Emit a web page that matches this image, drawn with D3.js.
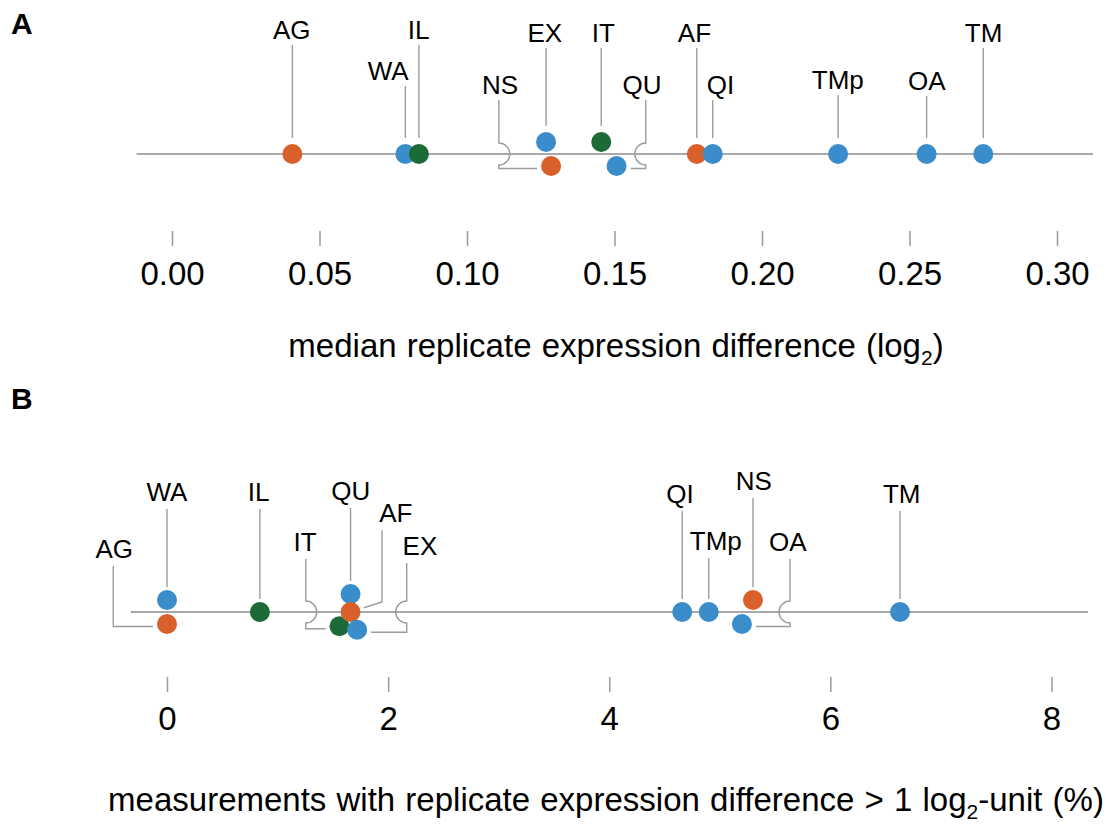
<!DOCTYPE html>
<html><head><meta charset="utf-8">
<script src="https://cdn.jsdelivr.net/npm/d3@7"></script>
<style>
body{margin:0;background:#fff}
svg{font-family:"Liberation Sans",Arial,Helvetica,sans-serif}
</style>
</head><body>
<svg id="chart" width="1107" height="824"></svg>
<script>
// ---------------- data ----------------
const categories = ["AG","WA","IL","NS","EX","IT","QU","AF","QI","TMp","OA","TM"];
const groups     = ["g1","g2","g3","g1","g2","g3","g2","g1","g2","g2","g2","g2"];
// panel A: median replicate expression difference (log2)
const valuesA = [0.0408,0.0791,0.0837,0.1285,0.1268,0.1455,0.1507,0.1779,0.1833,0.2258,0.2558,0.2750];
// panel B: measurements with replicate expression difference > 1 log2-unit (%)
const valuesB = [0.00,0.00,0.84,5.30,1.72,1.56,1.66,1.66,4.66,4.90,5.20,6.63];
const ticksA = [0,0.05,0.10,0.15,0.20,0.25,0.30];
const tickLabelsA = ["0.00","0.05","0.10","0.15","0.20","0.25","0.30"];
const ticksB = [0,2,4,6,8];
const tickLabelsB = ["0","2","4","6","8"];

// ---------------- label layout (annotation placement) ----------------
// side: which side of the axis a dot is dodged to (-1 above, 0 on, 1 below)
const sideA   = [0,0,0,1,-1,-1,1,0,0,0,0,0];
const labelXA = [0.0406,0.0733,0.0836,0.1112,0.1264,0.1462,0.1593,0.1771,0.1859,0.2257,0.2559,0.2751];
const leadXA  = [null,null,null,0.1108,null,null,0.1606,null,null,null,null,null];
const liftA   = [115,74,115,60,112,112,60,112,60,65,64,112];

const sideB   = [1,-1,0,-1,1,1,-1,0,0,0,1,0];
const labelXB = [-0.477,0.0,0.829,5.307,2.288,1.248,1.662,2.07,4.64,4.964,5.614,6.645];
const leadXB  = [-0.486,null,null,null,2.168,1.255,null,1.945,null,null,5.635,null];
const liftB   = [54,111,111,122,57,61,112,90,109,62,61,109];

const colors = {g1:"#D9602B", g2:"#3A8CCB", g3:"#1C6A38"};

// ---------------- drawing ----------------
const svg = d3.select("#chart");
const R = 10;

function panel(cfg){
  const x = d3.scaleLinear().domain(cfg.domain).range(cfg.range);
  const g = svg.append("g");
  const axisY = cfg.axisY;
  const lineStart = x(cfg.lineDomain[0]), lineEnd = x(cfg.lineDomain[1]);

  // axis line
  g.append("line").attr("x1",lineStart).attr("x2",lineEnd)
    .attr("y1",axisY).attr("y2",axisY)
    .attr("stroke","#a9a9a9").attr("stroke-width",2.2);

  // ticks + tick labels
  const ax = d3.axisBottom(x).tickValues(cfg.ticks)
    .tickFormat((d,i)=>cfg.tickLabels[i])
    .tickSize(cfg.tickLen).tickPadding(cfg.tickPad);
  const axg = g.append("g").attr("transform",`translate(0,${cfg.tickTop})`).call(ax);
  axg.select(".domain").remove();
  axg.attr("font-family",null).attr("font-size",null);
  axg.selectAll(".tick line").attr("stroke","#9a9a9a").attr("stroke-width",1.5);
  axg.selectAll(".tick text").attr("fill","#000").style("font-size","33px");

  // title
  const t = g.append("text").attr("x",cfg.titleX).attr("y",cfg.titleY)
    .attr("text-anchor","middle").style("font-size","33px").style("word-spacing","1px");
  cfg.title(t);

  // nodes
  const nodes = categories.map((c,i)=>({
    name:c, group:groups[i], value:cfg.values[i], side:cfg.side[i],
    px:x(cfg.values[i]), labelPx:x(cfg.labelX[i]),
    leadPx: cfg.leadX[i]==null ? x(cfg.values[i]) : x(cfg.leadX[i]),
    lift:cfg.lift[i], idx:i
  }));
  // dodge: dots on the axis stay; dodged dots move outward until clear
  const placed = nodes.filter(n=>n.side===0);
  placed.forEach(n=>n.py=0);
  nodes.filter(n=>n.side!==0).sort((a,b)=>a.value-b.value||a.idx-b.idx).forEach(n=>{
    let yy = n.side*cfg.dodgeBase;
    const hit = v => placed.some(p=>Math.hypot(p.px-n.px,p.py-v) < cfg.dodgeDist-1e-6);
    let k=0;
    while(hit(yy) && k<400){ yy += n.side*0.25; k++; }
    n.py = yy; placed.push(n);
  });

  // leaders
  const hopR = 11;
  const leader = n => {
    const lx = n.leadPx, top = axisY - n.lift + cfg.startGap;
    const dx = n.px, dy = axisY + n.py;
    if(n.side>0){
      const dir = dx > lx ? 1 : -1;
      let p = `M${lx},${top}`;
      if(lx > lineStart && lx < lineEnd){
        p += `V${axisY-hopR}A${hopR},${hopR} 0 0 ${dir>0?1:0} ${lx},${axisY+hopR}`;
      }
      p += `V${dy+2.5}H${dx - dir*(R+4)}`;
      return p;
    } else if(Math.abs(lx-dx) < 1){
      return `M${lx},${top}V${dy-R-cfg.endGap}`;
    } else {
      const vy = dy - R;
      const ang = Math.atan2(vy-dy, lx-dx);
      return `M${lx},${top}V${vy}L${dx+(R+4)*Math.cos(ang)},${dy+(R+4)*Math.sin(ang)}`;
    }
  };
  g.append("g").selectAll("path").data(nodes).join("path")
    .attr("d",leader).attr("fill","none")
    .attr("stroke","#9c9c9c").attr("stroke-width",1.4);

  // dots (drawn in value order)
  g.append("g").selectAll("circle")
    .data(nodes.slice().sort((a,b)=>a.value-b.value||a.idx-b.idx)).join("circle")
    .attr("cx",d=>d.px).attr("cy",d=>axisY+d.py).attr("r",R)
    .attr("fill",d=>colors[d.group]);

  // labels
  g.append("g").selectAll("text").data(nodes).join("text")
    .attr("x",d=>d.labelPx).attr("y",d=>axisY-d.lift)
    .attr("text-anchor","middle").style("font-size","26px").attr("fill","#000")
    .text(d=>d.name);

  // panel letter
  g.append("text").attr("x",11).attr("y",cfg.letterY)
    .style("font-size","30px").style("font-weight","bold").text(cfg.letter);
}

panel({
  letter:"A", letterY:34,
  values:valuesA, side:sideA, labelX:labelXA, leadX:leadXA, lift:liftA,
  domain:[0,0.30], range:[172,1057], lineDomain:[-0.012,0.3122],
  axisY:154, ticks:ticksA, tickLabels:tickLabelsA,
  tickTop:231, tickLen:15, tickPad:15.5,
  titleX:616, titleY:357,
  title:t=>{ t.append("tspan").text("median replicate expression difference (log");
             t.append("tspan").attr("dy",8).style("font-size","21px").text("2");
             t.append("tspan").attr("dy",-8).text(")"); },
  dodgeBase:12, dodgeDist:18, startGap:6, endGap:6
});

panel({
  letter:"B", letterY:409,
  values:valuesB, side:sideB, labelX:labelXB, leadX:leadXB, lift:liftB,
  domain:[0,8], range:[167,1051.5], lineDomain:[-0.328,8.33],
  axisY:612, ticks:ticksB, tickLabels:tickLabelsB,
  tickTop:677, tickLen:15, tickPad:15,
  titleX:606, titleY:811,
  title:t=>{ t.append("tspan").text("measurements with replicate expression difference > 1 log");
             t.append("tspan").attr("dy",8).style("font-size","21px").text("2");
             t.append("tspan").attr("dy",-8).text("-unit (%)"); },
  dodgeBase:12, dodgeDist:18, startGap:8, endGap:3
});
</script>
</body></html>
